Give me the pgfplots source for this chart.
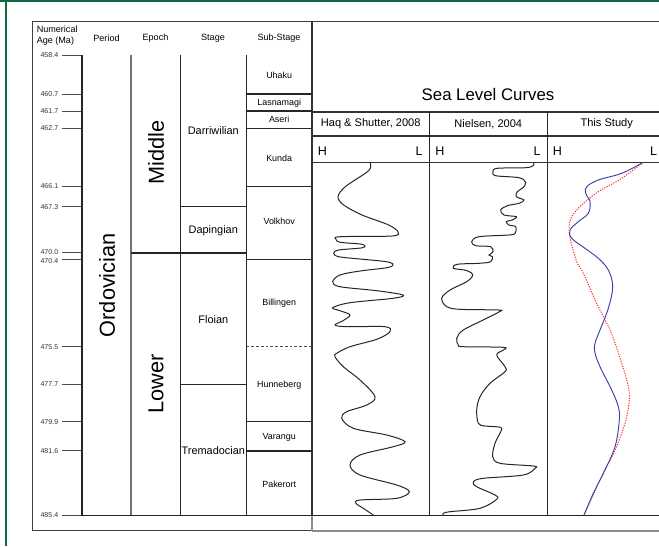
\documentclass[border=0pt]{standalone}
\usepackage{pgfplots}
\usepackage{pgfplotstable}
\pgfplotsset{compat=1.18}
\usepackage{fontspec}
\setmainfont{Liberation Sans}
\definecolor{frameg}{HTML}{0B6B3F}
\definecolor{studyblue}{HTML}{3B3FA6}
\definecolor{studyred}{HTML}{FF2A2A}
\newcommand{\fs}[2]{\fontsize{#1pt}{#2pt}\selectfont}

% curves: x position in panel (px), py = vertical pixel position (converted to age)
\pgfplotstableread{
x py
370.3 162.3
370.3 168.3
365.3 173.3
345.3 186.7
338 196.7
343.7 205
362 215
388.7 225
398 232
392 236
340.3 236.7
336 239.3
340.3 242.3
362 244.3
362.7 247.7
338.7 250
333.7 253.3
338.7 256.7
360 259
385 261.5
393 264
388 267.5
360 271
340 275
332.7 281.7
340 286.7
376.7 290.7
403 295
393 298.3
350 302.7
332.7 307.7
340 310.7
350 315
343 320.7
335 325
346.7 326.7
385 326.7
390 331.7
376.7 339.3
350 346.7
336.7 353.3
335 356.7
343.3 366.7
360 380
375 396.7
366.7 405
346.7 411.7
341.7 418.3
353.3 428.3
386.7 435
405 441.7
393.3 446.7
360 455
350 465
360 475
396.7 485
409.3 491.7
396.7 498.3
360 500
356 503.3
363.3 508.3
373.3 515
}\haq

\pgfplotstableread{
x py
534 162.3
533 165.7
525.7 167.7
497.3 168.3
493 171.7
495.7 175.7
519 177.7
525.7 182.3
523 187.7
517.3 191.7
516.3 196.7
524 200
519 203.3
507.3 205.7
500.7 210
504 215
516.3 216.7
512.3 220
506.3 221.7
509 225
515.7 226.7
515 233.3
509 235
479 236.7
471.7 241.7
475.7 245.7
490.7 246.7
493 251.7
489 255
492.3 256.7
490.7 261.7
479 263.3
457.3 264.3
453.3 268.3
466.7 270.5
472.7 275
466.7 281.7
450 290
441.7 298.3
446.7 306.7
460 309.3
498.3 310
499.3 311.7
486.7 318.3
463.3 330
456.7 338.3
458.3 345
463.3 346.7
503.3 347.3
503.3 350
496.7 355
505 366.7
505 371.7
490 383.3
480 396.7
476.7 410
478.3 423.3
485 426
500.7 427.3
500.7 431.7
495 443.3
492.7 456.7
500 463.3
533.3 466
535 468.3
523.3 475
483.3 478.3
473.3 481.7
476.7 486.7
495 495
496.7 499.3
480 508.3
450 511.7
443.3 513.3
442.7 515
}\nielsen

\pgfplotstableread{
x py
643.3 162.3
621.7 173.3
598.3 180
586.7 186.7
585.7 193.3
590 201.7
588.3 213.3
578.3 221.7
570 230
571.7 238.3
585 248.3
598.3 258.3
608.3 270
612.7 286.7
608.3 308.3
600 330
595 343.3
595 353
600 366.7
611.7 390
618.3 406.7
619.3 420
615 446.7
603.3 473.3
593.3 493.3
584 515
}\studyblue

\pgfplotstableread{
x py
643.3 162.3
621.7 178.3
598.3 191.7
581.7 205
571.7 216.7
569 228.3
571 241.7
576.7 261.7
583.3 273.3
596.7 303.3
610 330
620 358
628 385
629.3 400
625 423.3
615 450
600 480
584 515
}\studyred

\tikzset{tk/.style={black!70, line width=0.7pt},
  tl/.style={anchor=east, inner sep=0pt, text=black!80, font=\fs{5.3}{6}}}

\begin{document}
\begin{tikzpicture}
\begin{axis}[
  scale only axis, width=494.25pt, height=409.5pt,
  xmin=0, xmax=659, ymin=455.1752, ymax=487.188, y dir=reverse,
  hide axis, clip=false,
]
% frame
\draw[frameg, line width=1.6pt] (axis cs:6,487.188) -- (axis cs:6,455.22);
\draw[frameg, line width=1.8pt] (axis cs:0,455.22) -- (axis cs:659,455.22);
% outer box
\draw[black!75, line width=0.9pt] (axis cs:659,456.448) -- (axis cs:32.3,456.448) -- (axis cs:32.3,486.292) -- (axis cs:312,486.292);
\draw[black!45, line width=1.2pt] (axis cs:312,486.292) -- (axis cs:659,486.292);
\draw[black!80, line width=0.8pt] (axis cs:312,456.448) -- (axis cs:312,485.4);
\draw[black!45, line width=0.8pt] (axis cs:312,485.4) -- (axis cs:312,486.292);
% headers
\node[anchor=west, align=left, inner sep=0pt, font=\fs{6.8}{8.2}] at (axis cs:36.5,457.26) {Numerical\\Age (Ma)};
\node[inner sep=0pt, font=\fs{6.8}{8.2}] at (axis cs:106.5,457.40) {Period};
\node[inner sep=0pt, font=\fs{6.8}{8.2}] at (axis cs:155.5,457.40) {Epoch};
\node[inner sep=0pt, font=\fs{6.8}{8.2}] at (axis cs:213,457.40) {Stage};
\node[inner sep=0pt, font=\fs{6.8}{8.2}] at (axis cs:279,457.40) {Sub-Stage};
% ticks and labels
\draw[tk] (axis cs:62,458.4) -- (axis cs:82,458.4);
\draw[tk] (axis cs:62,460.7) -- (axis cs:82,460.7);
\draw[tk] (axis cs:62,461.7) -- (axis cs:82,461.7);
\draw[tk] (axis cs:62,462.7) -- (axis cs:82,462.7);
\draw[tk] (axis cs:62,466.1) -- (axis cs:82,466.1);
\draw[tk] (axis cs:62,467.3) -- (axis cs:82,467.3);
\draw[tk] (axis cs:62,470.0) -- (axis cs:82,470.0);
\draw[tk] (axis cs:62,470.4) -- (axis cs:82,470.4);
\draw[tk] (axis cs:62,475.5) -- (axis cs:82,475.5);
\draw[tk] (axis cs:62,477.7) -- (axis cs:82,477.7);
\draw[tk] (axis cs:62,479.9) -- (axis cs:82,479.9);
\draw[tk] (axis cs:62,481.6) -- (axis cs:82,481.6);
\draw[tk] (axis cs:62,485.4) -- (axis cs:82,485.4);
\node[tl] at (axis cs:58.5,458.4) {458.4};
\node[tl] at (axis cs:58.5,460.7) {460.7};
\node[tl] at (axis cs:58.5,461.7) {461.7};
\node[tl] at (axis cs:58.5,462.7) {462.7};
\node[tl] at (axis cs:58.5,466.1) {466.1};
\node[tl] at (axis cs:58.5,467.3) {467.3};
\node[tl] at (axis cs:58.5,469.95) {470.0};
\node[tl] at (axis cs:58.5,470.5) {470.4};
\node[tl] at (axis cs:58.5,475.5) {475.5};
\node[tl] at (axis cs:58.5,477.7) {477.7};
\node[tl] at (axis cs:58.5,479.9) {479.9};
\node[tl] at (axis cs:58.5,481.6) {481.6};
\node[tl] at (axis cs:58.5,485.4) {485.4};
% column verticals
\draw[black!85, line width=0.9pt] (axis cs:82,458.4) -- (axis cs:82,485.4);
\draw[black!55, line width=0.8pt] (axis cs:131,458.4) -- (axis cs:131,485.4);
\draw[black!85, line width=0.9pt] (axis cs:180.3,458.4) -- (axis cs:180.3,485.4);
\draw[black!85, line width=0.9pt] (axis cs:246.3,458.4) -- (axis cs:246.3,485.4);
\draw[black!85, line width=0.9pt] (axis cs:82,485.4) -- (axis cs:659,485.4);
% epoch / stage boundaries
\draw[black!85, line width=1.1pt] (axis cs:131,470.0) -- (axis cs:180.3,470.0);
\draw[black!85, line width=0.9pt] (axis cs:180.3,467.3) -- (axis cs:246.3,467.3);
\draw[black!85, line width=1.1pt] (axis cs:180.3,470.0) -- (axis cs:246.3,470.0);
\draw[black!85, line width=0.9pt] (axis cs:180.3,477.7) -- (axis cs:246.3,477.7);
% sub-stage boundaries
\draw[black!85, line width=1.2pt] (axis cs:246.3,460.7) -- (axis cs:312,460.7);
\draw[black!85, line width=1.2pt] (axis cs:246.3,461.7) -- (axis cs:312,461.7);
\draw[black!85, line width=1.2pt] (axis cs:246.3,462.7) -- (axis cs:312,462.7);
\draw[black!85, line width=0.9pt] (axis cs:246.3,466.1) -- (axis cs:312,466.1);
\draw[black!85, line width=1.1pt] (axis cs:246.3,470.4) -- (axis cs:312,470.4);
\draw[black!70, line width=0.8pt, dash pattern=on 2.2pt off 1.4pt] (axis cs:246.3,475.5) -- (axis cs:312,475.5);
\draw[black!85, line width=0.9pt] (axis cs:246.3,479.9) -- (axis cs:312,479.9);
\draw[black!85, line width=1.2pt] (axis cs:246.3,481.6) -- (axis cs:312,481.6);
% column texts
\node[rotate=90, font=\fs{16.3}{18}] at (axis cs:107,471.9) {Ordovician};
\node[rotate=90, font=\fs{16.3}{18}] at (axis cs:156,464.1) {Middle};
\node[rotate=90, font=\fs{16.3}{18}] at (axis cs:156,477.7) {Lower};
\node[font=\fs{8.2}{9.5}] at (axis cs:213.3,462.85) {Darriwilian};
\node[font=\fs{8.2}{9.5}] at (axis cs:213.3,468.7) {Dapingian};
\node[font=\fs{8.2}{9.5}] at (axis cs:213.3,473.9) {Floian};
\node[font=\fs{8.2}{9.5}, inner sep=0pt] at (axis cs:213.3,481.6) {Tremadocian};
\node[font=\fs{6.7}{8}] at (axis cs:279.2,459.6) {Uhaku};
\node[font=\fs{6.7}{8}, inner sep=0pt] at (axis cs:279.2,461.22) {Lasnamagi};
\node[font=\fs{6.7}{8}, inner sep=0pt] at (axis cs:279.2,462.17) {Aseri};
\node[font=\fs{6.7}{8}] at (axis cs:279.2,464.45) {Kunda};
\node[font=\fs{6.7}{8}] at (axis cs:279.2,468.15) {Volkhov};
\node[font=\fs{6.7}{8}] at (axis cs:279.2,472.95) {Billingen};
\node[font=\fs{6.7}{8}] at (axis cs:279.2,477.75) {Hunneberg};
\node[font=\fs{6.7}{8}] at (axis cs:279.2,480.8) {Varangu};
\node[font=\fs{6.7}{8}] at (axis cs:279.2,483.55) {Pakerort};
% sea level panel
\draw[black!80, line width=0.9pt] (axis cs:312,461.742) -- (axis cs:659,461.742);
\draw[black!80, line width=0.9pt] (axis cs:312,463.149) -- (axis cs:659,463.149);
\draw[black!80, line width=0.9pt] (axis cs:312,464.691) -- (axis cs:659,464.691);
\draw[black!85, line width=0.9pt] (axis cs:429.3,461.742) -- (axis cs:429.3,485.4);
\draw[black!85, line width=0.9pt] (axis cs:547.3,461.742) -- (axis cs:547.3,485.4);
\node[font=\fs{12.6}{14}] at (axis cs:488,460.72) {Sea Level Curves};
\node[font=\fs{8.3}{9.5}] at (axis cs:370.7,462.42) {Haq \& Shutter, 2008};
\node[font=\fs{8.3}{9.5}] at (axis cs:488.3,462.46) {Nielsen, 2004};
\node[font=\fs{8.3}{9.5}] at (axis cs:606.7,462.42) {This Study};
\node[font=\fs{9.4}{11}] at (axis cs:322.5,464.03) {H};
\node[font=\fs{9.4}{11}] at (axis cs:419,464.03) {L};
\node[font=\fs{9.4}{11}] at (axis cs:440,464.03) {H};
\node[font=\fs{9.4}{11}] at (axis cs:537,464.03) {L};
\node[font=\fs{9.4}{11}] at (axis cs:557.5,464.03) {H};
\node[font=\fs{9.4}{11}] at (axis cs:653.5,464.03) {L};
% curves
\addplot[black!85, line width=0.75pt, smooth, tension=0.55] table[x=x, y expr=458.4+(\thisrow{py}-55)/17.0556] {\haq};
\addplot[black!85, line width=0.75pt, smooth, tension=0.55] table[x=x, y expr=458.4+(\thisrow{py}-55)/17.0556] {\nielsen};
\addplot[studyred, line width=0.75pt, dash pattern=on 0.9pt off 1.0pt, smooth, tension=0.6] table[x=x, y expr=458.4+(\thisrow{py}-55)/17.0556] {\studyred};
\addplot[studyblue, line width=0.7pt, smooth, tension=0.6] table[x=x, y expr=458.4+(\thisrow{py}-55)/17.0556] {\studyblue};
\coordinate (BL) at (axis cs:0,487.188);
\coordinate (TR) at (axis cs:659,455.1752);
\end{axis}
\pgfresetboundingbox
\useasboundingbox (BL) rectangle (TR);
\end{tikzpicture}
\end{document}
